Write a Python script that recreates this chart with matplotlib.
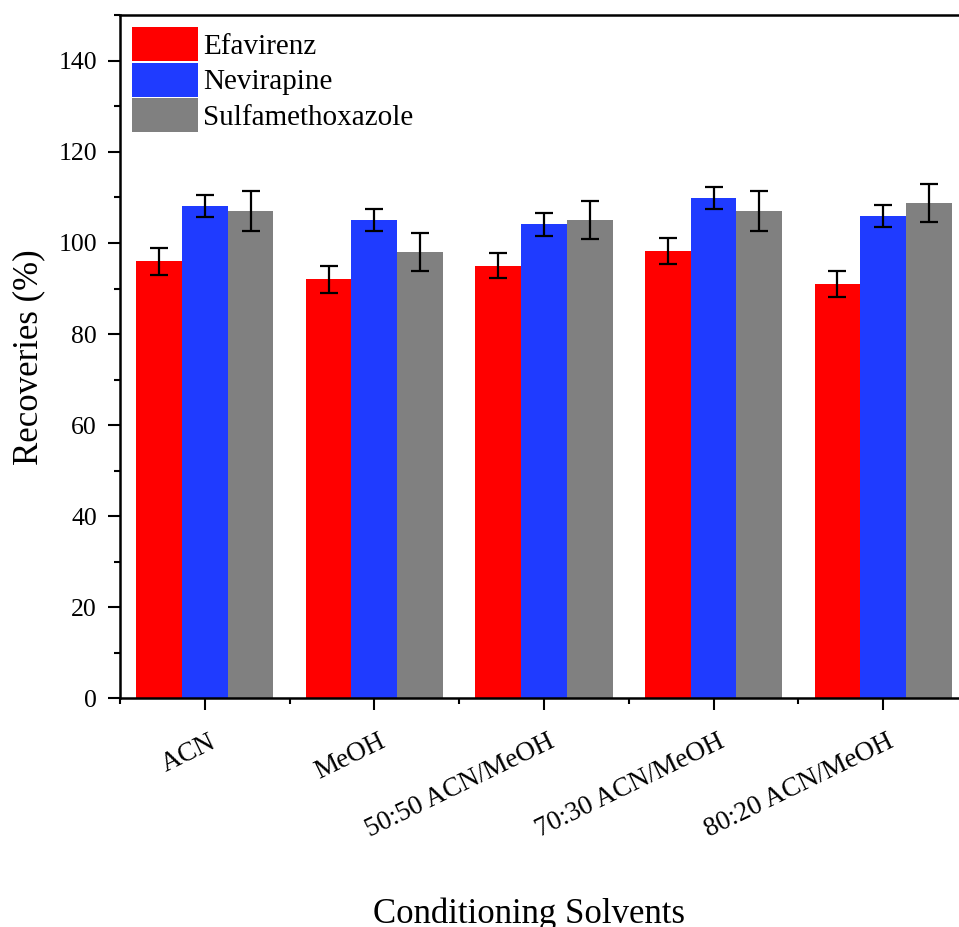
import numpy as np
import matplotlib
matplotlib.use("Agg")
import matplotlib.pyplot as plt
import matplotlib.transforms as mtransforms
from matplotlib.ticker import MultipleLocator, FixedLocator

plt.rcParams['font.family'] = ['Liberation Serif', 'DejaVu Serif']

# Data
solvents = ['ACN', 'MeOH', '50:50 ACN/MeOH', '70:30 ACN/MeOH', '80:20 ACN/MeOH']
efavirenz = [96.0, 92.0, 95.0, 98.2, 91.0]
efavirenz_err = [3.0, 2.9, 2.8, 2.8, 2.8]
nevirapine = [108.1, 105.1, 104.1, 109.9, 105.9]
nevirapine_err = [2.4, 2.4, 2.5, 2.4, 2.45]
sulfa = [107.0, 98.1, 105.1, 107.0, 108.8]
sulfa_err = [4.4, 4.2, 4.2, 4.4, 4.2]

series = [
    ('Efavirenz', efavirenz, efavirenz_err, '#FF0000'),
    ('Nevirapine', nevirapine, nevirapine_err, '#1F3BFF'),
    ('Sulfamethoxazole', sulfa, sulfa_err, '#808080'),
]

fig = plt.figure(figsize=(9.59, 9.27), dpi=100)
# right spine falls just outside the picture, like the reference crop
ax = fig.add_axes([0.1251, 0.2470, 0.8843, 0.7363])

x = np.arange(1, len(solvents) + 1)
w = 0.27
for i, (name, vals, errs, col) in enumerate(series):
    ax.bar(x + (i - 1) * w, vals, w, color=col, label=name, linewidth=0,
           yerr=errs, error_kw=dict(ecolor='black', elinewidth=1.6, capsize=6.5, capthick=1.6))

ax.set_xlim(0.5, 5.5)
ax.set_ylim(0, 150)

ax.set_yticks([0, 20, 40, 60, 80, 100, 120, 140])
ax.yaxis.set_minor_locator(MultipleLocator(10))
ax.xaxis.set_major_locator(FixedLocator(x))
ax.xaxis.set_minor_locator(FixedLocator(np.arange(0.5, 5.6, 1.0)))

ax.tick_params(axis='both', which='major', direction='out', length=8.6, width=1.5,
               labelsize=18.5, pad=8)
ax.tick_params(axis='both', which='minor', direction='out', length=4, width=1.5)
ax.tick_params(axis='x', which='major', pad=14, labelsize=19.5)
ax.tick_params(top=False, right=False, which='both')

ax.set_xticklabels(solvents, rotation=26, ha='right', va='top', rotation_mode='anchor')
offset = mtransforms.ScaledTranslation(4 / 100, 0, fig.dpi_scale_trans)
for lab in ax.get_xticklabels():
    lab.set_transform(lab.get_transform() + offset)

for s in ax.spines.values():
    s.set_linewidth(1.8)

ax.set_ylabel('Recoveries (%)', fontsize=25)
ax.yaxis.set_label_coords(-0.108, 0.5)
ax.yaxis.label.set_va('center')

ax.set_xlabel('Conditioning Solvents', fontsize=25)
ax.xaxis.set_label_coords(0.482, -0.3297)
ax.xaxis.label.set_va('baseline')

ax.legend(loc='upper left', frameon=False, fontsize=21, handlelength=2.26,
          handleheight=1.42, labelspacing=0.05, handletextpad=0.2,
          borderpad=0, borderaxespad=0.4)

fig.savefig('out.png', dpi=100)
